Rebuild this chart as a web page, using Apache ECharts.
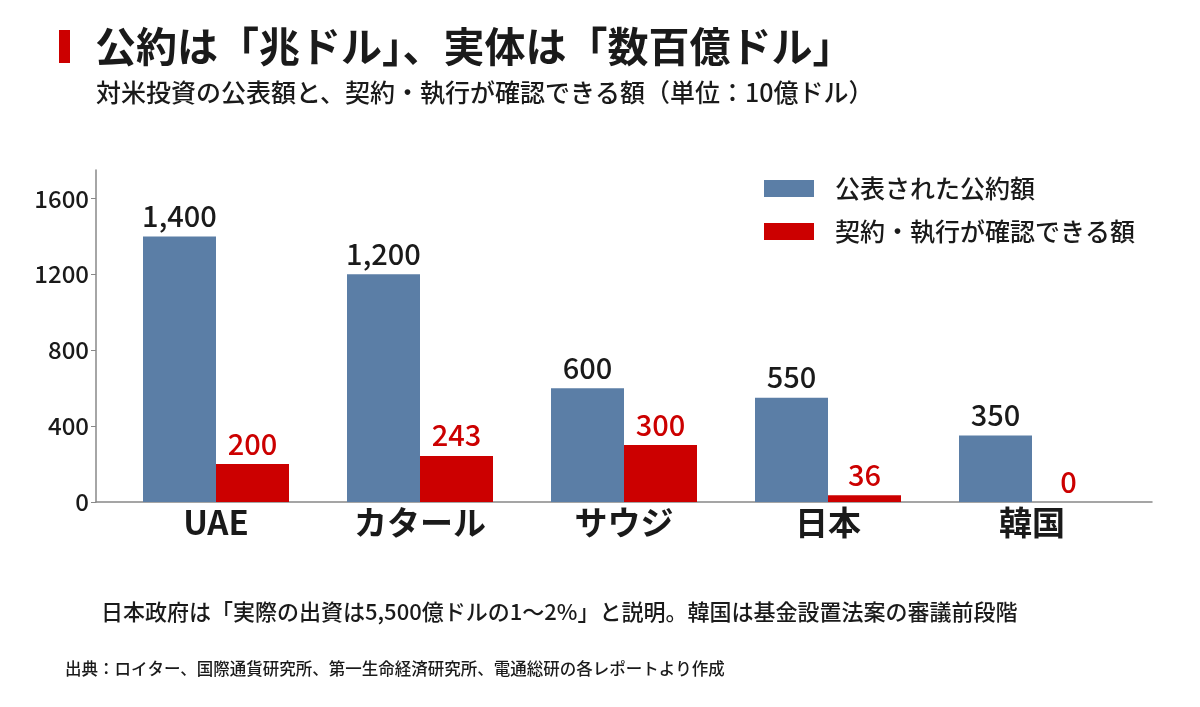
<!DOCTYPE html>
<html>
<head>
<meta charset="utf-8">
<script src="https://cdn.jsdelivr.net/npm/echarts@6/dist/echarts.min.js"></script>
<style>
  html, body { margin: 0; padding: 0; background: #fff; }
  #main { width: 1200px; height: 707px; }
</style>
</head>
<body>
<div id="main"></div>
<script>
// データ
var categories = ['UAE', 'カタール', 'サウジ', '日本', '韓国'];
var pledged = [1400, 1200, 600, 550, 350];
var confirmed = [200, 243, 300, 36, 0];
var seriesNames = ['公表された公約額', '契約・執行が確認できる額'];

var FONT = '"Noto Sans CJK JP", "Noto Sans", sans-serif';
var BLUE = '#5b7ea6';
var RED = '#cc0000';

var myChart = echarts.init(document.getElementById('main'));

var option = {
  backgroundColor: '#fff',
  textStyle: { fontFamily: FONT },
  title: [
    {
      text: '公約は「兆ドル」、実体は「数百億ドル」',
      left: 90, top: 21,
      textStyle: { fontFamily: FONT, fontSize: 41, fontWeight: 'bold', color: '#1a1a1a' }
    },
    {
      text: '対米投資の公表額と、契約・執行が確認できる額（単位：10億ドル）',
      left: 91, top: 75,
      textStyle: { fontFamily: FONT, fontSize: 25, fontWeight: 500, color: '#1a1a1a' }
    },
    {
      text: '日本政府は「実際の出資は5,500億ドルの1～2%」と説明。韓国は基金設置法案の審議前段階',
      left: 96, top: 596,
      textStyle: { fontFamily: FONT, fontSize: 22, fontWeight: 500, color: '#1a1a1a' }
    },
    {
      text: '出典：ロイター、国際通貨研究所、第一生命経済研究所、電通総研の各レポートより作成',
      left: 60, top: 655,
      textStyle: { fontFamily: FONT, fontSize: 16.5, fontWeight: 500, color: '#1a1a1a' }
    }
  ],
  graphic: [
    { type: 'rect', left: 59, top: 30, shape: { width: 11, height: 33 }, style: { fill: RED } }
  ],
  legend: {
    orient: 'vertical',
    left: 759, top: 171,
    itemWidth: 50, itemHeight: 17, itemGap: 18,
    icon: 'rect',
    data: seriesNames,
    textStyle: { fontFamily: FONT, fontSize: 25, fontWeight: 500, color: '#1a1a1a', padding: [0, 0, 0, 16] }
  },
  grid: [
    { left: 114, right: 66, top: 170, bottom: 205 },
    { left: 96, right: 48, top: 170, bottom: 205 }
  ],
  xAxis: [
    {
      type: 'category', gridIndex: 0, data: categories,
      axisLine: { show: false }, axisTick: { show: false },
      axisLabel: { fontFamily: FONT, fontSize: 33, fontWeight: 'bold', color: '#1a1a1a', margin: 4 }
    },
    {
      type: 'value', gridIndex: 1, min: 0, max: 1,
      axisLine: { lineStyle: { color: '#888', width: 1.5 } },
      axisTick: { show: false }, axisLabel: { show: false }, splitLine: { show: false }
    }
  ],
  yAxis: [
    {
      type: 'value', gridIndex: 0, min: 0, max: 1750, show: false, splitLine: { show: false }
    },
    {
      type: 'value', gridIndex: 1, min: 0, max: 1750, interval: 400,
      axisLine: { show: true, lineStyle: { color: '#888', width: 1.5 } },
      axisTick: { show: true, length: 5, lineStyle: { color: '#888' } },
      splitLine: { show: false },
      axisLabel: {
        fontFamily: FONT, fontSize: 24, fontWeight: 500, color: '#1a1a1a', margin: 7,
        showMaxLabel: false,
        formatter: function (v) { return String(v); }
      }
    }
  ],
  series: [
    {
      name: seriesNames[0], type: 'bar', xAxisIndex: 0, yAxisIndex: 0,
      data: pledged, barWidth: 73, barGap: '0%',
      itemStyle: { color: BLUE },
      label: {
        show: true, position: 'top', distance: 6,
        fontFamily: FONT, fontSize: 29, fontWeight: 500, color: '#1a1a1a',
        formatter: function (p) { return p.value.toLocaleString('en-US'); }
      }
    },
    {
      name: seriesNames[1], type: 'bar', xAxisIndex: 0, yAxisIndex: 0,
      data: confirmed, barWidth: 73, barGap: '0%',
      itemStyle: { color: RED },
      label: {
        show: true, position: 'top', distance: 6,
        fontFamily: FONT, fontSize: 29, fontWeight: 500, color: RED
      }
    }
  ]
};

myChart.setOption(option);
</script>
</body>
</html>
